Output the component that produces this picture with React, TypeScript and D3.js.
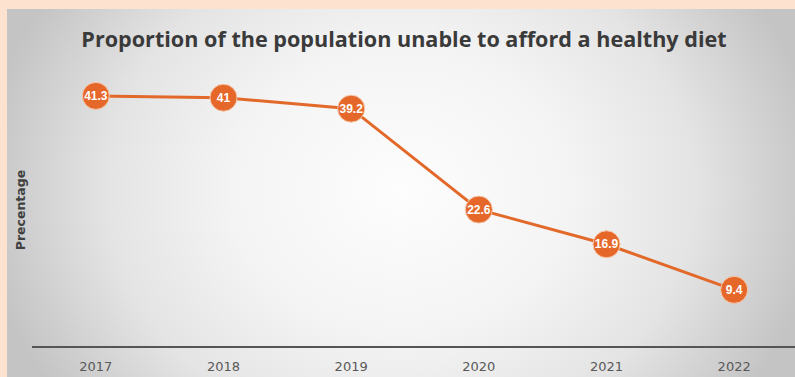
import React from "react";
import * as d3 from "d3";

const years = ["2017", "2018", "2019", "2020", "2021", "2022"];
const values = [41.3, 41, 39.2, 22.6, 16.9, 9.4];
const labels = ["41.3", "41", "39.2", "22.6", "16.9", "9.4"];

const W = 795;
const H = 377;

export default function App() {
  const x = d3.scaleBand<string>().domain(years).range([32, 798]);
  const y = d3.scaleLinear().domain([0, 50]).range([347, 43]);
  const cx = (d: string) => (x(d) as number) + x.bandwidth() / 2;
  const line = d3
    .line<number>()
    .x((_, i) => cx(years[i]))
    .y((v) => y(v));

  return (
    <svg
      width={W}
      height={H}
      style={{ position: "fixed", left: 0, top: 0, display: "block" }}
      fontFamily="Arial, 'Liberation Sans', sans-serif"
    >
      <defs>
        <radialGradient
          id="bg"
          gradientUnits="userSpaceOnUse"
          cx={401}
          cy={190}
          r={420}
          gradientTransform="translate(401,190) scale(1,0.85) translate(-401,-190)"
        >
          <stop offset="0" stopColor="#fdfdfd" />
          <stop offset="0.4" stopColor="#f4f4f4" />
          <stop offset="0.7" stopColor="#e4e4e4" />
          <stop offset="1" stopColor="#c4c4c4" />
        </radialGradient>
      </defs>
      <rect x={0} y={0} width={W} height={H} fill="#fde3cf" />
      <rect x={7} y={9} width={W - 7} height={H - 9} fill="url(#bg)" />
      <text
        x={404}
        y={47}
        textAnchor="middle"
        fontSize={21.6}
        fontWeight="bold"
        fill="#3a3a3a"
        fontFamily="'Open Sans', 'Noto Sans', sans-serif"
      >
        Proportion of the population unable to afford a healthy diet
      </text>
      <text
        transform="translate(25,210) rotate(-90)"
        textAnchor="middle"
        fontSize={12.5}
        fontWeight="bold"
        fill="#404040"
        fontFamily="'DejaVu Sans', sans-serif"
      >
        Precentage
      </text>
      <line x1={32} x2={W} y1={347} y2={347} stroke="#555555" strokeWidth={2} />
      {years.map((yr) => (
        <text
          key={yr}
          x={cx(yr)}
          y={371}
          textAnchor="middle"
          fontSize={13}
          fill="#595959"
          fontFamily="'DejaVu Sans', sans-serif"
        >
          {yr}
        </text>
      ))}
      <path d={line(values) || ""} fill="none" stroke="#e2692a" strokeWidth={3} />
      {values.map((v, i) => (
        <g key={i}>
          <circle cx={cx(years[i])} cy={y(v)} r={13.5} fill="#e5682a" stroke="#f6c9ad" strokeWidth={1} />
          <text
            x={cx(years[i])}
            y={y(v) + 4}
            textAnchor="middle"
            fontSize={12}
            fontWeight="bold"
            fill="#ffffff"
          >
            {labels[i]}
          </text>
        </g>
      ))}
    </svg>
  );
}
